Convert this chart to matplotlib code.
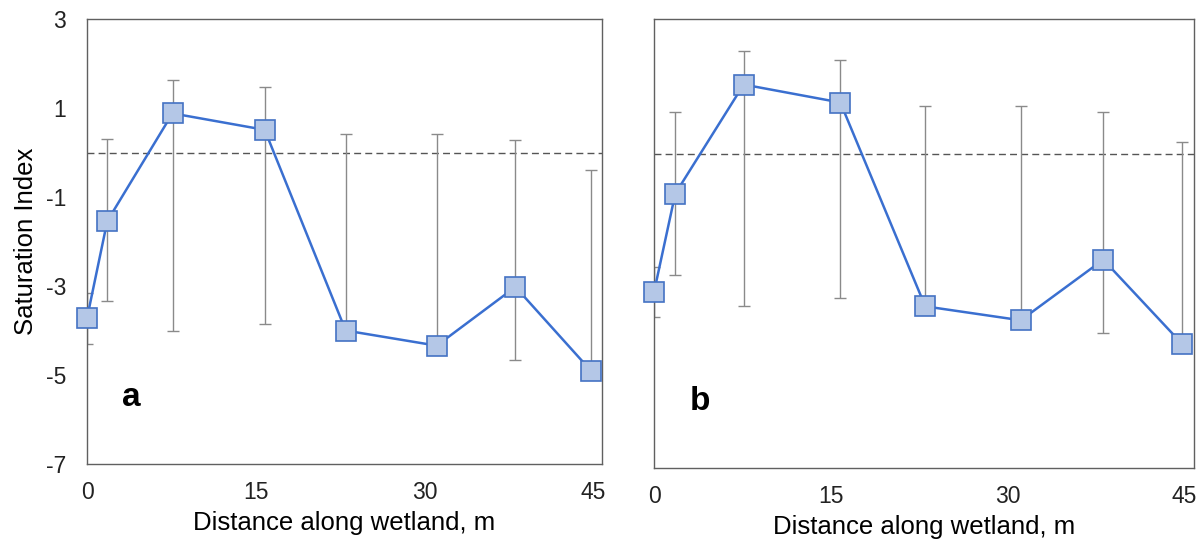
import matplotlib.pyplot as plt

plt.rcParams['font.family'] = ['Liberation Sans', 'DejaVu Sans']
plt.rcParams['axes.unicode_minus'] = False

# sampling points along the wetland (m)
distance = [0, 1.8, 7.6, 15.8, 23.0, 31.1, 38.1, 44.8]

# panel a: mean saturation index with upper / lower range
si_a = [-3.72, -1.54, 0.88, 0.51, -4.00, -4.34, -3.02, -4.90]
hi_a = [-3.16, 0.30, 1.64, 1.47, 0.41, 0.41, 0.29, -0.39]
lo_a = [-4.30, -3.34, -4.00, -3.85, -4.00, -4.34, -4.67, -4.90]

# panel b
si_b = [-3.08, -0.89, 1.54, 1.14, -3.40, -3.71, -2.36, -4.24]
hi_b = [-2.53, 0.93, 2.29, 2.09, 1.07, 1.07, 0.93, 0.25]
lo_b = [-3.64, -2.70, -3.39, -3.22, -3.40, -3.71, -3.99, -4.24]

xticks = [0, 15, 30, 45]
yticks = [3, 1, -1, -3, -5, -7]

fig = plt.figure(figsize=(11.99, 5.44), dpi=100)
ax_a = fig.add_axes([0.0726, 0.147, 0.4295, 0.818])
ax_b = fig.add_axes([0.5455, 0.1397, 0.4504, 0.8254])


def panel(ax, si, hi, lo, tag, show_y):
    yerr = [[s - l for s, l in zip(si, lo)], [h - s for s, h in zip(si, hi)]]
    ax.errorbar(distance, si, yerr=yerr, fmt='none', ecolor='#8a8a8a',
                elinewidth=1.0, capsize=4.3, capthick=1.0, zorder=2)
    ax.axhline(0, color='#555555', lw=1.0, dashes=(5, 3), zorder=1)
    ax.plot(distance, si, color='#3a6fd0', lw=1.8, marker='s', ms=14.5,
            mfc='#b4c7e7', mec='#4472c4', mew=1.2, zorder=3, clip_on=False)
    ax.text(3.9, -5.7, tag, fontsize=24, fontweight='bold', ha='center',
            va='baseline')
    ax.set_xlim(0, 45.8)
    ax.set_ylim(-7, 3)
    ax.set_xticks(xticks)
    ax.set_yticks(yticks)
    ax.tick_params(length=0, labelsize=16.5, colors='#222222')
    ax.tick_params(axis='x', pad=12)
    ax.tick_params(axis='y', pad=15)
    if not show_y:
        ax.set_yticklabels([])
    else:
        ax.set_ylabel('Saturation Index', fontsize=18.5, labelpad=6)
    ax.set_xlabel('Distance along wetland, m', fontsize=18.5, labelpad=5)
    for sp in ax.spines.values():
        sp.set_color('#606060')
        sp.set_linewidth(1.0)


panel(ax_a, si_a, hi_a, lo_a, 'a', True)
panel(ax_b, si_b, hi_b, lo_b, 'b', False)

fig.savefig('out.png', dpi=100)
